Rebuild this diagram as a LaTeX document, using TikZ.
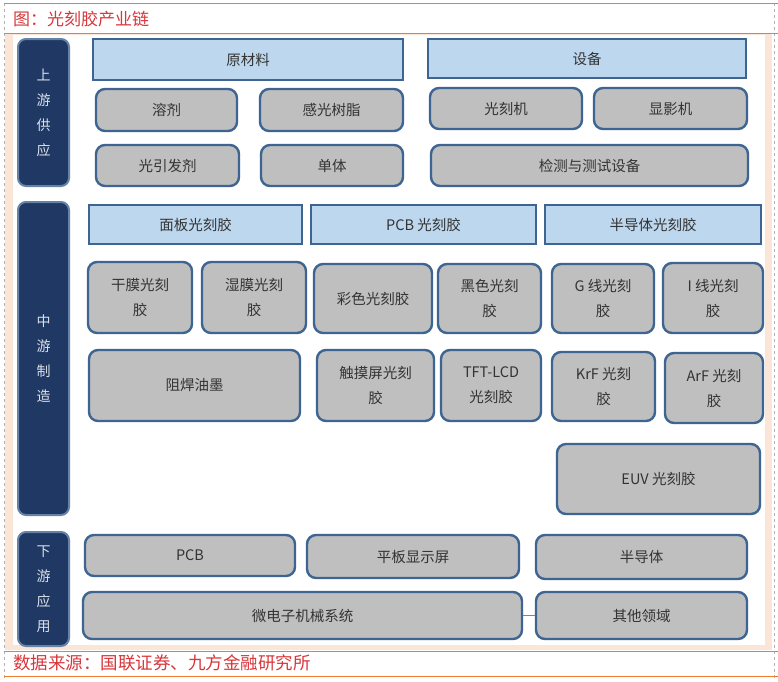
\documentclass[tikz,border=0pt]{standalone}
\usepackage{fontspec}
\setmainfont{Noto Sans CJK SC}

\definecolor{edgeblue}{HTML}{3E6491}
\definecolor{hdrblue}{HTML}{BDD7EE}
\definecolor{boxgray}{HTML}{BFBFBF}
\definecolor{navy}{HTML}{1F3864}
\definecolor{txtgray}{HTML}{333333}
\definecolor{peach}{HTML}{FBE5D6}
\definecolor{rule}{HTML}{ED7D31}
\definecolor{titlered}{HTML}{D8363A}
\definecolor{linkpink}{HTML}{D9587E}

\tikzstyle{hdr}=[draw=edgeblue,
                 fill=hdrblue,
                 line width=2.4pt,
                 inner sep=0pt,
                 text=txtgray,
                 align=center,
                 font=\fontsize{14.5}{25}\selectfont]
\tikzstyle{gbox}=[hdr,
                  fill=boxgray,
                  rounded corners=9pt]
\tikzstyle{side}=[draw=edgeblue!80,
                  fill=navy,
                  line width=2pt,
                  rounded corners=8pt,
                  inner sep=0pt,
                  minimum width=51pt,
                  text=white!85!navy,
                  align=center,
                  font=\fontsize{14}{25}\selectfont]

\begin{document}
\begin{tikzpicture}[x=1pt,y=-1pt]
    \useasboundingbox (0,0) rectangle (778,681);
    % frame
    \fill[peach] (5,33) rectangle (772,650);
    \fill[white] (13,35) rectangle (765,645);
    \draw[gray!60, dashed, line width=0.5pt] (4,3) -- (4,678);
    \draw[gray!60, dashed, line width=0.5pt] (774,3) -- (774,678);
    \draw[rule, line width=1pt] (4,3) -- (778,3);
    \draw[rule, line width=1pt] (4,33) -- (778,33);
    \draw[rule, line width=1pt] (4,651) -- (778,651);
    \draw[rule, line width=1pt] (4,676) -- (778,676);
    \node (title) [anchor=west, inner sep=0pt, text=titlered, font=\fontsize{17}{17}\selectfont] at (13,19) {图：光刻胶产业链};
    \node (source) [anchor=west, inner sep=0pt, text=titlered, font=\fontsize{17.5}{17.5}\selectfont] at (13,663) {数据来源：国联证券、九方金融研究所};

    % side bars
    \node (up) [side, minimum height=147pt] at (43.5,112.5) {上\\游\\供\\应};
    \node (mid) [side, minimum height=313pt] at (43.5,358.5) {中\\游\\制\\造};
    \node (down) [side, minimum height=114pt] at (43.5,589) {下\\游\\应\\用};

    % upstream
    \node (raw) [hdr, minimum width=310pt, minimum height=41pt] at (248,59.5) {原材料};
    \node (equip) [hdr, minimum width=318pt, minimum height=39pt] at (587,58.5) {设备};
    \node (solvent) [gbox, minimum width=141pt, minimum height=42pt] at (166.5,110) {溶剂};
    \node (resin) [gbox, minimum width=143pt, minimum height=42pt] at (331.5,110) {感光树脂};
    \node (litho) [gbox, minimum width=152pt, minimum height=41pt] at (506,108.5) {光刻机};
    \node (devel) [gbox, minimum width=153pt, minimum height=41pt] at (670.5,108.5) {显影机};
    \node (initiator) [gbox, minimum width=143pt, minimum height=41pt] at (167.5,165.5) {光引发剂};
    \node (monomer) [gbox, minimum width=142pt, minimum height=41pt] at (332,165.5) {单体};
    \node (testeq) [gbox, minimum width=317pt, minimum height=41pt] at (589.5,165.5) {检测与测试设备};

    % midstream
    \node (panelpr) [hdr, minimum width=213pt, minimum height=39pt] at (195.5,224.5) {面板光刻胶};
    \node (pcbpr) [hdr, minimum width=225pt, minimum height=39pt] at (423.5,224.5) {PCB 光刻胶};
    \node (semipr) [hdr, minimum width=216pt, minimum height=39pt] at (653,224.5) {半导体光刻胶};
    \node (dry) [gbox, minimum width=104pt, minimum height=71pt] at (140,297.5) {干膜光刻\\胶};
    \node (wet) [gbox, minimum width=104pt, minimum height=71pt] at (254,297.5) {湿膜光刻\\胶};
    \node (colorpr) [gbox, minimum width=118pt, minimum height=69pt] at (373,298.5) {彩色光刻胶};
    \node (blackpr) [gbox, minimum width=103pt, minimum height=69pt] at (489.5,298.5) {黑色光刻\\胶};
    \node (gline) [gbox, minimum width=102pt, minimum height=69pt] at (603,298.5) {G 线光刻\\胶};
    \node (iline) [gbox, minimum width=100pt, minimum height=70pt] at (713,298) {I 线光刻\\胶};
    \node (solder) [gbox, minimum width=211pt, minimum height=71pt] at (194.5,385.5) {阻焊油墨};
    \node (touch) [gbox, minimum width=117pt, minimum height=71pt] at (375.5,385.5) {触摸屏光刻\\胶};
    \node (tft) [gbox, minimum width=100pt, minimum height=71pt] at (491,385.5) {TFT-LCD\\光刻胶};
    \node (krf) [gbox, minimum width=103pt, minimum height=69pt] at (603.5,386.5) {KrF 光刻\\胶};
    \node (arf) [gbox, minimum width=98pt, minimum height=70pt] at (714,388) {ArF 光刻\\胶};
    \node (euv) [gbox, minimum width=203pt, minimum height=70pt] at (658.5,479) {EUV 光刻胶};

    % downstream
    \node (pcb) [gbox, minimum width=210pt, minimum height=41pt] at (190,555.5) {PCB};
    \node (fpd) [gbox, minimum width=212pt, minimum height=43pt] at (413,556.5) {平板显示屏};
    \node (semi) [gbox, minimum width=211pt, minimum height=44pt] at (641.5,557) {半导体};
    \node (mems) [gbox, minimum width=439pt, minimum height=47pt] at (302.5,615.5) {微电子机械系统};
    \node (other) [gbox, minimum width=211pt, minimum height=47pt] at (641.5,615.5) {其他领域};
    \draw[linkpink, line width=1.6pt] (mems) -- (other);
\end{tikzpicture}
\end{document}
